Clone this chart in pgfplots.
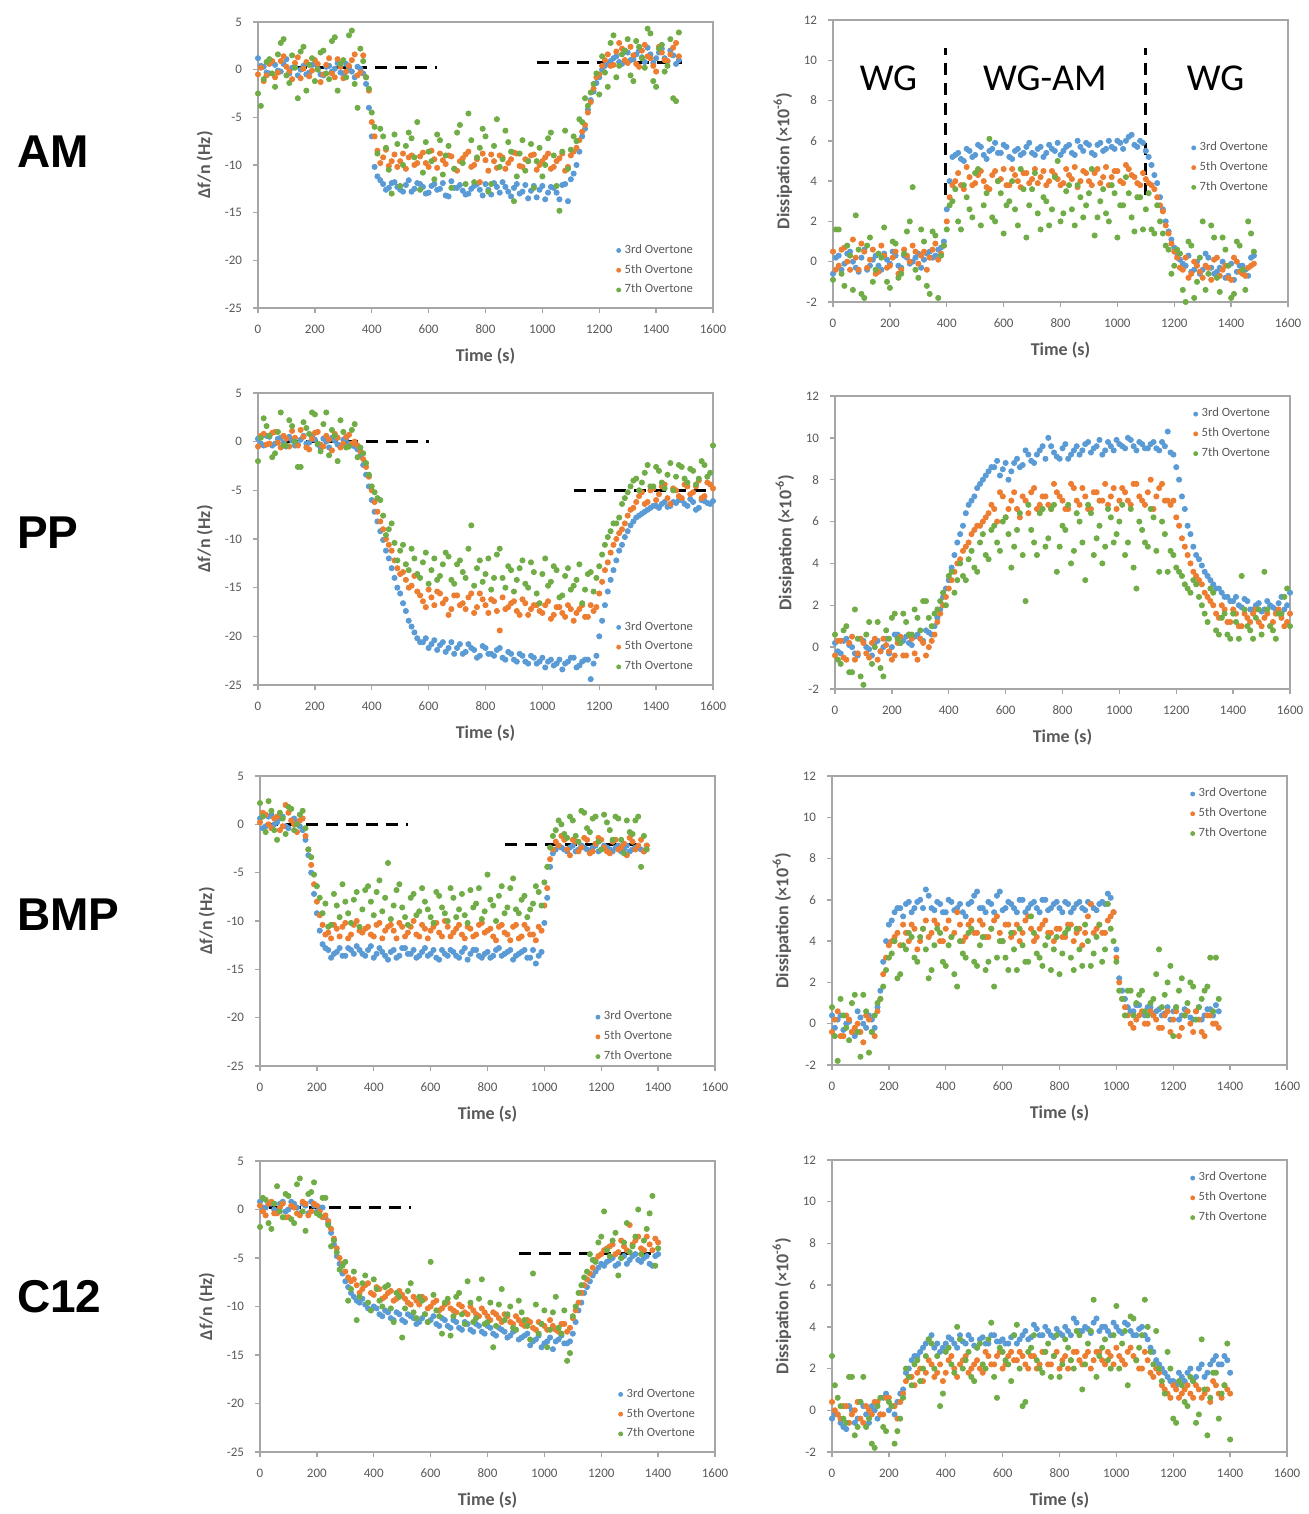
\documentclass[border=0pt]{standalone}
\usepackage{pgfplots}
\pgfplotsset{compat=1.18}
\usepackage{pgfplotstable}
\usepackage{fontspec}
\setmainfont{Carlito}
\newfontfamily\rowfont{Liberation Sans}

\definecolor{ov3}{HTML}{5B9BD5}
\definecolor{ov5}{HTML}{ED7D31}
\definecolor{ov7}{HTML}{70AD47}
\definecolor{tickgray}{HTML}{595959}
\definecolor{framegray}{HTML}{A6A6A6}

% columns: time, 3rd, 5th, 7th overtone
\pgfplotstableread{
t a b c
0 1.2 -0.5 -2.5
20 0.3 -1.2 -1.0
40 -0.4 0.6 1.1
60 0.5 -0.8 -1.8
80 -0.2 0.9 2.8
100 1.1 0.3 -0.6
120 0.2 -1.0 1.5
140 -0.6 1.3 -3.0
160 0.4 0.1 2.4
180 -0.3 -0.7 0.5
200 0.6 1.0 -1.2
220 -0.5 -1.3 1.8
240 0.3 0.5 -0.4
260 -0.2 -0.4 3.0
280 0.7 1.1 -2.2
300 -0.4 -0.9 1.0
320 0.2 0.4 3.6
340 -0.8 1.6 -1.5
360 0.1 -0.3 2.2
380 -1.5 -0.8 -0.8
400 -7.0 -5.5 -4.5
420 -11.2 -8.5 -8.8
440 -12.0 -9.2 -7.0
460 -12.4 -10.1 -10.5
480 -11.8 -8.9 -6.8
500 -12.6 -9.6 -12.2
520 -12.1 -10.4 -8.0
540 -12.8 -9.0 -7.2
560 -11.9 -9.8 -5.5
580 -12.3 -8.7 -10.8
600 -12.9 -10.2 -8.6
620 -12.0 -9.4 -11.5
640 -12.5 -8.8 -7.4
660 -13.2 -9.9 -9.0
680 -11.7 -9.1 -12.4
700 -12.4 -10.6 -6.6
720 -12.7 -9.3 -9.8
740 -13.0 -8.6 -4.6
760 -12.2 -10.0 -11.8
780 -12.6 -11.8 -8.2
800 -12.0 -9.5 -7.0
820 -13.1 -8.9 -12.0
840 -12.3 -10.3 -5.2
860 -11.8 -9.2 -9.4
880 -12.8 -9.8 -7.6
900 -12.4 -8.7 -13.8
920 -13.0 -10.1 -8.8
940 -12.1 -9.4 -10.6
960 -12.7 -9.0 -7.8
980 -13.4 -10.5 -9.6
1000 -12.2 -9.6 -11.2
1020 -12.9 -8.8 -7.2
1040 -12.4 -10.2 -9.0
1060 -13.6 -9.3 -14.8
1080 -12.0 -10.6 -6.4
1100 -11.5 -9.0 -8.4
1120 -10.0 -8.2 -7.5
1140 -7.0 -6.5 -5.5
1160 -4.2 -4.5 -3.8
1180 -2.3 -2.0 -1.5
1200 -0.8 -0.5 -2.6
1220 0.4 1.0 -0.3
1240 0.9 0.4 2.8
1260 1.4 1.9 -0.8
1280 0.6 2.2 1.6
1300 1.8 0.7 3.2
1320 1.1 1.5 -1.2
1340 2.0 0.3 2.4
1360 0.8 2.6 0.2
1380 1.6 1.2 3.8
1400 1.2 -0.2 -1.8
1420 2.2 1.8 2.6
1440 0.9 0.9 0.4
1460 1.5 2.3 -3.0
1480 1.0 1.4 3.9
10 0.4 0.2 -3.8
30 -0.3 -0.6 0.8
50 0.8 0.9 -0.4
70 -0.1 -0.3 1.6
90 0.6 1.4 3.2
110 -0.4 -0.2 -1.4
130 0.3 0.7 0.2
150 0.0 -0.9 1.9
170 -0.5 0.8 -2.2
190 0.5 -0.1 1.2
210 0.1 0.6 0.0
230 -0.6 -0.5 2.0
250 0.4 1.2 -1.0
270 0.1 -0.8 3.4
290 -0.3 0.3 0.6
310 0.6 -0.2 -0.8
330 -0.2 1.0 4.1
350 0.3 -0.6 -4.0
370 -0.4 1.5 0.9
390 -4.0 -2.2 -2.0
410 -10.2 -7.0 -6.0
430 -11.6 -9.8 -6.2
450 -12.6 -8.4 -8.2
470 -11.9 -9.6 -13.0
490 -12.3 -10.2 -7.8
510 -12.8 -8.8 -10.0
530 -11.6 -9.2 -6.6
550 -12.5 -10.0 -9.2
570 -12.0 -9.1 -12.6
590 -13.0 -9.8 -7.6
610 -12.2 -8.5 -9.6
630 -12.6 -10.3 -6.8
650 -11.9 -9.5 -11.0
670 -13.3 -9.0 -8.0
690 -12.4 -10.4 -10.4
710 -12.1 -9.6 -5.8
730 -13.1 -8.9 -12.0
750 -12.5 -10.2 -7.4
770 -12.0 -9.4 -9.2
790 -13.2 -8.8 -6.2
810 -12.6 -10.6 -12.8
830 -11.9 -9.6 -8.0
850 -12.9 -9.0 -10.2
870 -12.3 -10.4 -6.4
890 -13.3 -9.4 -8.6
910 -12.0 -8.8 -11.2
930 -12.8 -10.2 -7.4
950 -13.5 -9.6 -9.6
970 -12.2 -8.9 -12.4
990 -12.6 -10.0 -8.2
1010 -13.6 -9.2 -10.0
1030 -12.3 -10.4 -6.6
1050 -12.9 -9.6 -12.2
1070 -12.1 -8.8 -8.6
1090 -13.8 -10.2 -10.4
1110 -10.9 -8.6 -7.0
1130 -8.6 -7.4 -5.2
1150 -6.2 -5.8 -3.0
1170 -3.2 -3.4 -2.4
1190 -1.4 -0.8 -0.4
1210 0.0 0.4 1.4
1230 0.6 1.6 -1.8
1250 1.2 0.5 3.6
1270 0.8 2.8 0.4
1290 1.9 1.0 2.0
1310 1.0 2.4 -0.6
1330 1.6 0.6 3.0
1350 1.3 2.0 1.2
1370 2.3 1.4 4.3
1390 0.7 0.4 -1.2
1410 1.8 2.4 2.2
1430 1.2 1.0 -0.2
1450 2.0 1.6 3.2
1470 0.6 2.8 -3.3
}\amf

\pgfplotstableread{
t a b c
0 -0.6 0.5 -0.9
20 0.3 -0.2 1.6
40 -0.1 0.7 -1.2
60 0.5 -0.4 0.3
80 -0.3 0.2 2.3
100 0.2 0.9 -1.6
120 -0.4 -0.3 0.8
140 0.1 0.6 -1.0
160 -0.2 -0.5 0.4
180 0.4 0.3 1.7
200 -0.1 -0.2 -1.3
220 0.3 0.5 0.9
240 -0.3 -0.4 -0.6
260 0.2 0.3 1.5
280 0.0 0.8 3.7
300 0.4 -0.1 -0.8
320 0.1 0.5 1.0
340 0.5 0.2 -1.6
360 0.3 0.9 1.3
380 0.7 0.4 0.3
400 2.6 2.0 1.6
420 5.2 3.8 3.0
440 5.4 4.4 2.0
460 5.0 3.6 3.8
480 5.5 4.2 2.6
500 5.3 3.9 4.4
520 5.7 4.5 1.8
540 5.1 3.7 3.4
560 5.6 4.3 2.2
580 5.4 4.0 4.0
600 5.8 4.6 1.4
620 5.2 3.8 3.0
640 5.5 4.3 2.6
660 5.3 3.7 4.6
680 5.7 4.4 1.2
700 5.4 4.1 3.6
720 5.6 3.9 2.4
740 5.2 4.5 3.2
760 5.8 4.0 1.8
780 5.5 4.3 4.2
800 5.3 3.8 2.0
820 5.7 4.6 3.5
840 5.4 4.1 2.6
860 6.0 3.7 3.8
880 5.5 4.5 2.2
900 5.8 4.0 3.4
920 5.3 4.4 1.3
940 5.9 3.9 3.0
960 5.6 4.7 2.4
980 5.7 4.2 3.8
1000 6.0 4.5 1.2
1020 5.6 3.9 2.8
1040 6.2 4.6 3.4
1060 5.8 4.2 1.5
1080 6.0 3.8 3.2
1100 5.5 4.1 2.6
1120 4.8 3.8 1.6
1140 3.9 3.2 2.8
1160 2.6 2.5 1.4
1180 1.5 1.4 0.6
1200 0.7 0.5 -0.2
1220 0.1 -0.3 0.4
1240 -0.2 0.2 -2.0
1260 -0.5 -0.6 0.8
1280 0.0 -0.2 -1.0
1300 -0.4 -0.8 2.0
1320 0.2 -0.3 -0.6
1340 -0.6 0.1 1.2
1360 -0.3 -0.7 -1.5
1380 -0.8 -0.2 0.6
1400 -0.1 -0.9 -1.8
1420 -0.5 0.0 1.0
1440 -0.2 -0.6 -0.4
1460 -0.7 -0.3 2.0
1480 0.3 -0.1 0.5
10 0.2 -0.4 1.6
30 -0.4 0.6 -0.6
50 0.4 0.0 0.8
70 0.0 1.1 -1.4
90 -0.5 -0.4 0.6
110 0.6 0.5 -1.8
130 -0.2 0.1 1.2
150 0.3 -0.6 -0.4
170 -0.4 0.8 0.2
190 0.1 -0.3 -1.0
210 0.5 0.2 1.0
230 -0.2 -0.6 -0.8
250 0.3 0.6 0.4
270 -0.1 0.0 2.0
290 0.2 0.5 -0.4
310 -0.3 0.3 1.6
330 0.4 -0.4 -1.2
350 0.2 0.6 1.5
370 0.6 0.1 -1.8
390 1.0 0.8 0.8
410 4.0 3.2 2.8
430 5.3 4.0 3.6
450 5.1 3.8 1.6
470 5.6 4.7 3.2
490 5.2 3.8 2.2
510 5.8 4.3 4.6
530 5.3 4.0 2.8
550 5.5 3.6 6.1
570 5.9 4.5 2.0
590 5.4 4.1 3.4
610 5.7 3.8 2.8
630 5.1 4.6 4.0
650 5.6 4.0 1.8
670 5.4 4.4 3.6
690 5.9 3.9 2.8
710 5.3 4.6 4.4
730 5.7 4.2 1.6
750 5.4 3.8 3.0
770 5.6 4.5 2.6
790 5.9 4.1 5.0
810 5.5 3.9 2.4
830 5.8 4.3 3.8
850 5.3 4.7 1.8
870 5.7 4.0 3.2
890 5.9 4.4 2.8
910 5.4 3.8 4.6
930 5.8 4.6 2.2
950 5.5 4.2 3.6
970 6.0 3.8 2.0
990 5.6 4.5 3.4
1010 5.9 4.0 2.8
1030 6.0 4.8 4.2
1050 6.3 4.3 2.2
1070 5.7 3.9 3.2
1090 5.9 4.4 1.6
1110 5.2 3.9 3.4
1130 4.3 3.6 1.4
1150 3.2 2.8 2.0
1170 2.0 1.8 0.8
1190 1.1 0.9 -0.6
1210 0.4 0.2 0.6
1230 -0.1 -0.4 -1.4
1250 0.3 -0.8 1.0
1270 -0.4 0.0 -1.8
1290 -0.6 -0.5 0.2
1310 0.4 -0.2 -1.4
1330 -0.3 -0.9 1.8
1350 -0.5 0.2 -0.8
1370 0.0 -0.4 1.2
1390 -0.7 -0.8 -0.2
1410 -0.9 0.2 -1.6
1430 -0.2 -0.5 0.8
1450 -0.4 -0.7 -1.4
1470 0.2 -0.2 1.4
}\amd

\pgfplotstableread{
t a b c
0 0.3 -0.5 -2.0
20 -0.4 0.8 2.4
40 0.5 -0.2 0.6
60 -0.2 1.0 -1.2
80 0.4 -0.6 3.0
100 -0.5 0.3 -0.4
120 0.1 1.1 1.6
140 -0.3 -0.4 -2.6
160 0.6 0.5 2.0
180 -0.1 -0.8 0.8
200 0.2 0.9 2.8
220 -0.6 -0.3 -1.0
240 0.0 0.6 3.0
260 0.4 -0.9 1.2
280 -0.3 0.4 -2.0
300 0.2 -0.2 1.0
320 -0.2 0.7 -0.5
340 -0.5 0.0 1.8
360 -1.5 -1.0 -0.6
380 -3.4 -2.6 -2.2
400 -6.0 -5.0 -4.6
420 -8.2 -7.2 -5.8
440 -10.1 -9.0 -7.6
460 -12.0 -10.6 -9.0
480 -14.0 -12.2 -10.4
500 -15.6 -13.6 -11.2
520 -17.4 -14.2 -12.6
540 -19.0 -14.8 -11.0
560 -20.2 -15.4 -13.6
580 -20.6 -16.4 -12.4
600 -21.2 -15.2 -14.6
620 -20.4 -16.8 -12.0
640 -20.9 -15.6 -13.8
660 -21.6 -16.2 -11.4
680 -20.6 -17.2 -14.2
700 -21.2 -15.8 -12.6
720 -21.8 -16.6 -13.4
740 -20.8 -16.0 -11.0
760 -21.4 -17.6 -14.8
780 -22.0 -15.6 -12.2
800 -21.2 -16.8 -13.6
820 -21.8 -16.2 -15.2
840 -21.4 -17.4 -11.6
860 -22.2 -16.0 -14.0
880 -21.6 -17.0 -12.8
900 -22.4 -16.4 -15.4
920 -21.8 -17.8 -13.0
940 -22.6 -16.6 -14.6
960 -22.0 -17.2 -12.4
980 -22.8 -16.8 -15.6
1000 -22.2 -17.6 -13.6
1020 -22.6 -16.4 -14.8
1040 -23.0 -17.8 -12.8
1060 -22.4 -17.0 -16.0
1080 -22.8 -18.0 -13.8
1100 -22.2 -17.2 -15.2
1120 -23.2 -17.6 -14.2
1140 -22.6 -16.8 -16.6
1160 -22.4 -18.0 -13.6
1180 -22.8 -17.4 -15.4
1200 -20.0 -15.6 -12.8
1220 -16.8 -13.2 -10.6
1240 -14.2 -11.4 -9.2
1260 -12.2 -10.0 -8.4
1280 -10.6 -9.0 -6.4
1300 -9.2 -7.6 -5.2
1320 -8.2 -6.8 -4.0
1340 -7.6 -5.6 -5.0
1360 -7.2 -6.4 -3.2
1380 -6.8 -5.0 -4.6
1400 -6.6 -6.0 -2.6
1420 -6.4 -4.6 -4.2
1440 -6.7 -5.8 -3.4
1460 -6.2 -4.8 -5.0
1480 -6.0 -5.6 -2.4
1500 -6.4 -4.4 -3.8
1520 -5.9 -5.4 -2.8
1540 -7.0 -4.6 -4.4
1560 -6.0 -5.8 -2.0
1580 -6.3 -4.2 -3.6
1600 -6.1 -4.8 -0.4
10 -0.2 0.6 0.4
30 0.6 -0.3 1.6
50 -0.4 0.9 -1.6
70 0.3 -0.1 1.0
90 -0.1 0.6 -0.4
110 0.5 -0.5 2.2
130 -0.4 0.4 0.0
150 0.2 1.2 -2.6
170 -0.2 -0.6 1.4
190 0.5 0.3 3.0
210 -0.3 1.0 -0.2
230 0.3 -0.5 1.8
250 -0.6 0.2 -1.4
270 0.1 0.8 0.6
290 -0.4 -0.6 2.2
310 0.3 0.5 -0.6
330 -0.3 -0.2 1.2
350 -0.8 -0.4 -1.6
370 -2.4 -1.8 -1.2
390 -4.6 -3.6 -3.4
410 -7.2 -6.2 -5.2
430 -9.2 -8.2 -6.0
450 -11.2 -10.0 -9.6
470 -13.0 -11.2 -8.4
490 -15.0 -13.0 -12.2
510 -16.6 -13.4 -10.6
530 -18.4 -15.0 -13.2
550 -19.6 -13.8 -12.0
570 -20.6 -15.8 -14.0
590 -20.2 -17.0 -11.4
610 -20.8 -16.0 -13.2
630 -21.4 -15.4 -14.2
650 -20.6 -16.6 -12.6
670 -21.2 -17.8 -11.8
690 -21.8 -15.8 -14.6
710 -20.8 -16.8 -12.2
730 -21.6 -17.2 -14.0
750 -21.2 -15.6 -8.6
770 -22.2 -17.0 -13.0
790 -21.0 -16.2 -14.4
810 -21.8 -17.6 -12.0
830 -22.0 -16.4 -14.0
850 -21.2 -19.4 -11.0
870 -22.4 -17.2 -15.0
890 -21.8 -16.6 -13.2
910 -22.6 -17.4 -14.2
930 -22.0 -16.2 -12.2
950 -22.8 -17.8 -15.0
970 -22.2 -16.8 -13.4
990 -22.6 -17.4 -16.6
1010 -23.2 -16.8 -12.0
1030 -22.4 -18.2 -14.4
1050 -22.8 -17.0 -13.2
1070 -23.4 -17.6 -15.8
1090 -22.6 -16.8 -13.0
1110 -22.2 -18.4 -14.8
1130 -23.0 -17.2 -12.6
1150 -22.4 -18.0 -15.2
1170 -24.4 -16.8 -13.4
1190 -22.0 -17.0 -14.0
1210 -18.4 -14.4 -11.6
1230 -15.4 -12.4 -9.8
1250 -13.2 -10.6 -8.4
1270 -11.2 -9.4 -7.8
1290 -9.8 -8.4 -5.8
1310 -8.6 -7.0 -4.6
1330 -7.8 -6.2 -3.8
1350 -7.4 -5.2 -4.2
1370 -7.0 -6.2 -2.4
1390 -6.6 -4.8 -4.6
1410 -6.8 -5.4 -3.0
1430 -6.2 -4.4 -4.8
1450 -6.6 -6.4 -2.2
1470 -6.3 -5.0 -3.6
1490 -6.0 -5.8 -2.6
1510 -6.6 -4.6 -4.2
1530 -6.2 -5.2 -3.0
1550 -6.8 -4.0 -3.8
1570 -6.1 -5.6 -2.4
1590 -6.4 -4.4 -3.2
}\ppf

\pgfplotstableread{
t a b c
0 0.2 -0.4 0.6
20 -0.3 0.3 -0.8
40 0.4 -0.6 1.0
60 0.0 0.5 -1.2
80 -0.4 -0.3 0.4
100 0.3 0.2 -1.8
120 -0.1 -0.5 1.2
140 0.2 0.4 0.0
160 -0.2 -0.2 -1.0
180 0.4 0.1 0.8
200 0.0 -0.6 1.4
220 0.6 0.2 0.4
240 0.3 -0.4 1.6
260 0.2 0.6 0.6
280 0.5 -0.3 1.8
300 0.4 0.4 0.8
320 0.8 -0.4 2.2
340 0.6 0.3 1.0
360 1.4 1.2 1.8
380 2.4 2.0 2.6
400 3.2 2.8 3.4
420 4.4 3.6 2.6
440 5.4 4.2 4.0
460 6.4 4.8 3.2
480 7.0 5.4 4.6
500 7.6 5.8 3.6
520 8.0 6.0 5.4
540 8.4 6.4 4.2
560 8.6 6.6 5.8
580 8.2 7.4 4.6
600 8.8 6.2 6.2
620 8.4 7.0 3.8
640 9.0 6.6 5.6
660 8.7 7.2 4.4
680 9.2 6.4 6.8
700 8.8 7.6 5.0
720 9.4 6.8 6.4
740 9.0 7.2 4.8
760 9.6 6.6 6.6
780 9.1 7.4 3.6
800 9.5 7.0 5.8
820 9.0 6.6 6.8
840 9.4 7.6 4.6
860 9.2 6.8 6.0
880 9.7 7.2 3.2
900 9.3 6.6 6.4
920 9.6 7.4 5.2
940 9.2 7.0 4.0
960 9.8 6.8 6.6
980 9.4 7.6 5.0
1000 9.7 7.0 6.0
1020 9.5 7.4 4.4
1040 9.9 6.8 6.6
1060 9.4 7.8 2.8
1080 9.7 7.0 5.6
1100 9.5 7.4 4.8
1120 9.8 6.6 6.2
1140 9.4 7.6 3.6
1160 9.6 7.0 5.4
1180 9.3 6.8 4.6
1200 8.6 6.2 3.8
1220 7.2 5.2 3.4
1240 5.8 4.4 2.8
1260 4.8 3.6 3.2
1280 4.2 3.2 2.4
1300 3.6 2.6 1.6
1320 3.2 2.2 2.8
1340 2.8 1.6 0.8
1360 2.6 2.0 1.4
1380 2.4 1.2 0.6
1400 2.2 1.8 1.6
1420 2.0 1.0 0.4
1440 2.3 1.6 1.8
1460 1.8 1.2 0.8
1480 2.0 1.8 1.4
1500 1.7 1.0 0.6
1520 2.2 1.6 1.8
1540 1.9 1.2 0.8
1560 2.1 1.8 1.6
1580 1.8 1.0 2.4
1600 2.6 1.6 1.0
10 -0.2 0.3 -0.6
30 0.3 -0.5 0.8
50 0.1 0.2 -1.2
70 -0.3 -0.6 1.8
90 0.4 0.4 -1.4
110 0.0 -0.3 0.6
130 -0.4 0.2 -0.8
150 0.3 -0.6 1.2
170 0.0 0.4 -1.4
190 -0.3 -0.2 0.4
210 0.6 -0.4 1.6
230 0.2 0.5 0.2
250 0.5 -0.4 1.2
270 0.1 0.4 0.6
290 0.6 -0.6 1.4
310 0.3 0.2 2.2
330 0.7 0.0 1.4
350 1.0 0.6 1.6
370 1.8 1.6 2.2
390 2.8 2.4 2.0
410 3.8 3.2 3.6
430 5.0 4.0 3.2
450 5.8 4.6 3.4
470 6.8 5.0 4.2
490 7.2 5.6 3.8
510 7.8 5.8 5.0
530 8.2 6.2 4.4
550 8.6 6.8 5.6
570 8.9 6.0 5.0
590 8.5 7.2 6.0
610 8.0 6.6 5.4
630 8.8 7.4 4.8
650 8.6 6.2 6.4
670 9.4 7.0 2.2
690 8.9 7.4 5.6
710 9.2 6.6 4.4
730 9.6 7.2 6.6
750 10.0 6.8 5.2
770 9.3 7.8 6.8
790 9.0 7.2 4.8
810 9.7 6.6 5.6
830 9.2 7.8 4.0
850 9.6 7.0 6.4
870 9.4 7.6 5.0
890 9.8 6.6 6.8
910 9.5 7.4 4.4
930 9.9 7.0 5.8
950 9.4 7.8 4.8
970 9.6 7.2 6.2
990 9.9 6.6 5.4
1010 9.6 7.6 6.8
1030 10.0 7.0 5.0
1050 9.6 7.8 3.8
1070 9.8 7.2 6.0
1090 9.5 6.8 5.0
1110 9.7 8.0 6.6
1130 9.5 7.2 4.6
1150 9.8 7.8 6.0
1170 10.3 7.0 3.6
1190 9.2 7.0 4.4
1210 8.0 5.8 3.6
1230 6.6 4.8 3.0
1250 5.4 4.0 2.6
1270 4.4 3.4 3.0
1290 3.9 3.0 2.0
1310 3.4 2.4 1.2
1330 3.0 2.0 2.6
1350 2.8 1.4 0.6
1370 2.4 1.8 1.6
1390 2.2 1.2 0.4
1410 2.4 1.6 1.2
1430 1.9 1.0 3.4
1450 2.2 1.4 1.0
1470 1.8 1.6 0.4
1490 2.1 1.2 1.8
1510 1.8 1.4 3.6
1530 2.0 1.0 1.0
1550 1.8 1.6 0.4
1570 2.4 1.4 1.6
1590 2.0 1.2 2.8
}\ppd

\pgfplotstableread{
t a b c
0 0.6 0.2 2.2
20 -0.2 1.0 -0.8
40 1.0 -0.4 1.4
60 0.2 0.8 -1.6
80 0.8 -0.2 0.6
100 -0.4 1.2 1.8
120 0.6 0.0 -0.6
140 -0.2 0.4 1.0
160 -1.6 -1.2 -0.4
180 -5.0 -4.2 -3.4
200 -9.2 -8.0 -6.4
220 -12.4 -10.4 -9.2
240 -13.0 -11.2 -10.6
260 -13.4 -10.4 -7.2
280 -12.8 -11.6 -9.6
300 -13.6 -10.2 -8.0
320 -13.0 -11.4 -10.2
340 -12.6 -10.0 -7.0
360 -13.4 -11.2 -8.8
380 -13.0 -10.6 -6.4
400 -13.8 -11.6 -9.4
420 -12.8 -10.2 -5.8
440 -13.6 -11.0 -7.6
460 -13.2 -10.4 -9.8
480 -13.8 -11.8 -6.8
500 -12.8 -10.6 -8.6
520 -13.4 -11.2 -10.4
540 -13.0 -10.0 -7.2
560 -13.6 -11.6 -9.0
580 -12.8 -10.8 -8.0
600 -13.4 -11.0 -9.6
620 -13.8 -10.2 -7.0
640 -13.0 -11.6 -8.6
660 -13.6 -10.6 -10.0
680 -13.2 -11.2 -7.6
700 -13.8 -10.4 -8.8
720 -12.8 -11.8 -9.4
740 -13.4 -10.8 -6.8
760 -13.0 -11.4 -8.2
780 -13.8 -10.2 -9.8
800 -13.2 -11.0 -5.2
820 -13.6 -11.6 -8.4
840 -12.8 -10.6 -7.4
860 -13.4 -11.2 -9.2
880 -13.0 -12.0 -6.6
900 -13.6 -10.4 -8.8
920 -13.2 -11.6 -7.8
940 -13.8 -10.8 -9.6
960 -13.0 -11.4 -8.2
980 -13.6 -10.6 -7.0
1000 -10.2 -8.4 -6.0
1020 -4.4 -3.6 -2.4
1040 -2.6 -1.8 -0.6
1060 -2.4 -1.2 0.0
1080 -2.8 -2.6 -1.4
1100 -2.2 -1.6 0.4
1120 -2.6 -2.8 -1.8
1140 -2.4 -1.4 1.2
1160 -2.8 -3.0 -0.8
1180 -2.2 -2.0 0.8
1200 -2.6 -1.6 -2.6
1220 -2.4 -2.8 0.2
1240 -2.8 -1.8 -1.6
1260 -2.2 -2.6 0.6
1280 -2.6 -2.0 -3.0
1300 -2.8 -1.4 -0.8
1320 -2.4 -2.6 0.4
1340 -2.6 -1.6 -4.4
1360 -2.2 -2.2 -2.6
10 -0.4 1.2 0.8
30 0.8 0.0 2.4
50 0.0 0.6 -0.6
70 0.6 -0.6 1.2
90 -0.2 2.0 -1.0
110 0.4 0.4 1.6
130 0.2 -0.8 0.0
150 -0.6 0.6 1.4
170 -3.2 -2.6 -2.6
190 -7.2 -6.2 -5.2
210 -11.0 -9.4 -7.6
230 -12.8 -11.4 -8.2
250 -13.8 -11.8 -10.4
270 -13.2 -10.8 -8.4
290 -13.6 -10.6 -6.2
310 -12.8 -11.8 -9.2
330 -13.4 -10.4 -7.8
350 -13.0 -11.0 -10.6
370 -13.6 -10.8 -6.8
390 -12.6 -11.4 -8.0
410 -13.4 -10.4 -7.0
430 -13.2 -11.8 -9.0
450 -14.0 -10.6 -4.0
470 -13.0 -11.0 -8.4
490 -13.6 -10.2 -6.2
510 -12.8 -11.6 -9.6
530 -13.4 -10.6 -7.6
550 -13.8 -11.4 -9.4
570 -13.2 -10.4 -6.6
590 -13.6 -11.8 -8.8
610 -13.0 -10.6 -10.2
630 -14.0 -11.2 -7.4
650 -13.4 -10.0 -9.2
670 -13.0 -11.6 -6.6
690 -13.6 -10.8 -9.6
710 -13.2 -11.4 -7.2
730 -14.0 -10.6 -10.2
750 -13.0 -11.6 -8.6
770 -13.6 -10.4 -6.6
790 -13.4 -11.2 -9.0
810 -13.8 -10.8 -7.8
830 -13.0 -12.0 -10.0
850 -13.6 -10.4 -6.4
870 -13.2 -11.4 -8.6
890 -14.0 -10.6 -5.6
910 -13.4 -11.8 -9.2
930 -13.0 -10.4 -7.4
950 -13.8 -11.4 -8.8
970 -14.4 -12.0 -6.4
990 -13.2 -11.0 -8.4
1010 -7.6 -6.6 -4.4
1030 -3.0 -2.6 -1.2
1050 -2.2 -2.2 0.4
1070 -2.6 -1.6 -1.0
1090 -2.4 -3.2 0.8
1110 -2.8 -1.8 -1.2
1130 -2.2 -2.4 1.4
1150 -2.6 -1.6 -0.4
1170 -2.4 -2.8 0.6
1190 -2.8 -1.4 -1.8
1210 -2.2 -2.4 1.0
1230 -2.6 -3.0 -0.6
1250 -2.4 -1.6 0.8
1270 -2.8 -2.4 -1.6
1290 -2.2 -3.2 0.4
1310 -2.6 -1.8 -1.0
1330 -2.4 -2.2 0.8
1350 -2.8 -2.8 -1.2
}\bmpf

\pgfplotstableread{
t a b c
0 0.4 -0.4 0.8
20 0.2 0.6 -1.8
40 -0.3 -0.6 0.4
60 0.1 0.2 -0.8
80 -0.6 -0.2 1.4
100 0.3 -0.4 -1.6
120 -0.2 0.4 0.6
140 0.2 -0.4 -0.4
160 0.8 0.6 1.0
180 3.0 2.4 1.8
200 4.8 3.8 3.2
220 5.4 4.2 4.0
240 5.6 3.8 2.4
260 5.8 4.4 3.6
280 5.4 4.8 4.2
300 5.9 3.6 3.0
320 5.6 4.6 4.6
340 6.2 4.2 2.2
360 5.5 5.0 3.8
380 5.8 4.0 4.4
400 5.4 4.6 2.8
420 5.9 4.2 4.2
440 5.6 5.4 1.8
460 5.4 4.0 3.4
480 5.8 4.8 4.4
500 6.2 4.4 3.0
520 5.6 5.0 3.8
540 5.4 4.2 2.6
560 5.8 4.6 4.6
580 6.2 5.2 3.2
600 5.5 4.0 4.0
620 5.9 4.8 2.6
640 5.6 4.4 3.6
660 6.0 4.0 4.6
680 5.4 5.0 3.0
700 5.8 4.6 5.2
720 5.6 4.2 3.4
740 6.0 4.8 2.8
760 5.5 4.4 4.2
780 5.8 4.0 3.6
800 5.6 4.6 2.4
820 5.9 4.2 4.4
840 5.4 4.8 3.2
860 5.8 4.4 4.6
880 5.6 3.8 2.8
900 5.9 5.2 4.0
920 5.6 4.4 3.4
940 5.8 4.8 4.8
960 5.8 4.4 3.6
980 6.1 5.2 4.6
1000 3.6 3.2 3.0
1020 1.6 1.2 1.2
1040 0.8 0.4 1.6
1060 0.6 -0.2 0.4
1080 0.9 0.4 1.4
1100 0.4 0.0 0.6
1120 0.8 0.6 1.0
1140 0.6 0.2 2.4
1160 0.4 -0.2 0.8
1180 0.8 0.6 2.0
1200 0.6 0.2 -0.6
1220 0.2 -0.6 1.6
1240 0.7 0.4 0.4
1260 0.3 0.0 2.0
1280 0.6 0.6 0.2
1300 0.2 -0.4 1.2
1320 0.7 0.4 1.8
1340 0.4 0.0 0.6
1360 0.6 -0.2 1.2
10 -0.2 0.2 -0.6
30 0.4 -0.6 1.2
50 0.0 0.4 -0.2
70 -0.4 -0.4 1.0
90 0.6 0.0 -0.4
110 0.0 -0.9 1.4
130 0.4 0.2 -1.4
150 -0.2 -0.6 0.4
170 1.6 1.2 1.2
190 4.0 3.2 2.6
210 5.0 4.0 3.4
230 5.6 4.4 2.2
250 5.2 4.8 3.8
270 5.9 4.0 4.4
290 5.6 4.6 3.2
310 6.0 4.0 4.2
330 6.5 5.0 3.6
350 5.6 4.4 2.6
370 5.9 4.8 4.6
390 5.4 4.0 3.0
410 6.0 5.0 3.8
430 5.5 4.4 2.4
450 5.8 4.8 4.0
470 5.2 4.2 3.2
490 5.9 5.0 4.6
510 6.4 4.4 2.8
530 5.6 4.8 4.2
550 5.9 4.2 3.0
570 5.4 5.0 1.8
590 6.4 4.4 4.0
610 5.6 4.8 3.2
630 5.8 4.2 4.4
650 5.4 4.8 2.6
670 6.0 4.4 3.8
690 5.6 5.2 3.0
710 5.9 4.0 4.4
730 5.4 4.6 3.2
750 6.0 5.0 3.8
770 5.6 4.4 2.6
790 5.9 4.6 4.2
810 5.4 4.2 3.4
830 5.8 4.8 4.6
850 5.6 4.0 2.6
870 5.9 4.6 3.6
890 5.5 4.4 4.8
910 5.8 5.8 2.8
930 5.5 4.6 4.2
950 5.9 4.4 3.0
970 6.3 5.0 5.8
990 5.4 5.4 4.0
1010 2.2 2.0 1.6
1030 1.2 0.8 0.4
1050 0.6 0.0 1.6
1070 0.9 0.2 1.0
1090 0.5 0.6 1.6
1110 0.8 0.0 0.4
1130 0.4 0.4 1.2
1150 0.7 -0.2 3.6
1170 0.5 0.4 1.4
1190 0.2 -0.4 2.8
1210 0.8 0.6 0.8
1230 0.4 -0.2 2.2
1250 0.6 0.6 1.0
1270 0.2 -0.4 1.8
1290 0.8 0.2 0.8
1310 0.4 -0.6 1.6
1330 0.7 0.4 3.2
1350 0.9 0.0 3.2
}\bmpd

\pgfplotstableread{
t a b c
0 0.8 0.4 -1.8
20 0.2 -0.6 1.0
40 0.6 0.8 -2.0
60 -0.2 -0.4 2.4
80 0.8 0.6 -0.8
100 0.0 -0.8 1.4
120 0.6 0.2 -1.4
140 -0.4 -0.6 3.2
160 0.4 0.6 -2.2
180 0.8 -0.2 1.8
200 -0.2 0.4 -0.4
220 0.2 -0.8 1.2
240 -1.4 -1.2 -1.6
260 -3.6 -3.0 -3.2
280 -5.6 -5.0 -6.2
300 -7.4 -6.4 -5.4
320 -8.6 -7.4 -8.2
340 -9.4 -7.8 -11.4
360 -9.2 -8.2 -7.6
380 -10.2 -7.6 -9.6
400 -10.0 -8.8 -7.2
420 -10.8 -8.2 -9.4
440 -10.4 -9.0 -8.0
460 -11.2 -8.4 -10.2
480 -10.6 -9.2 -8.6
500 -11.4 -8.8 -13.2
520 -10.8 -9.6 -8.4
540 -11.2 -9.0 -10.6
560 -11.6 -9.8 -9.0
580 -10.8 -9.2 -10.8
600 -11.4 -10.0 -5.4
620 -11.8 -9.4 -10.4
640 -11.2 -10.2 -12.8
660 -12.0 -9.6 -9.2
680 -11.4 -10.4 -11.0
700 -12.2 -9.8 -8.6
720 -11.6 -10.6 -11.8
740 -12.4 -10.0 -9.6
760 -11.8 -10.8 -11.2
780 -12.6 -10.2 -7.2
800 -12.0 -11.0 -11.6
820 -12.8 -10.6 -14.2
840 -12.2 -11.2 -9.8
860 -12.6 -10.8 -11.4
880 -13.0 -11.6 -10.0
900 -12.4 -11.0 -12.4
920 -13.2 -11.8 -10.6
940 -12.8 -11.4 -12.0
960 -13.6 -12.2 -6.6
980 -13.0 -11.6 -12.8
1000 -13.8 -12.0 -10.4
1020 -13.2 -11.4 -12.4
1040 -13.6 -12.4 -9.0
1060 -13.0 -11.8 -12.8
1080 -13.8 -12.6 -15.6
1100 -12.8 -11.2 -11.0
1120 -10.4 -9.6 -8.6
1140 -8.6 -7.8 -7.0
1160 -7.4 -6.6 -4.6
1180 -6.4 -5.2 -5.4
1200 -5.6 -4.6 -2.8
1220 -5.4 -4.0 -4.2
1240 -5.0 -3.6 -3.2
1260 -5.6 -4.4 -6.8
1280 -4.8 -3.8 -3.4
1300 -5.2 -1.6 -4.4
1320 -4.6 -3.2 -2.8
1340 -5.4 -4.0 -4.6
1360 -4.8 -2.8 -2.0
1380 -5.8 -4.2 1.4
1400 -4.6 -3.4 -4.0
10 0.2 -0.2 1.2
30 0.6 0.6 -1.4
50 0.0 -0.4 0.6
70 0.6 0.2 -0.2
90 -0.2 -0.8 1.6
110 0.8 0.4 -1.0
130 0.2 -0.4 2.6
150 0.6 0.8 -0.2
170 -0.4 -0.6 1.6
190 0.4 0.6 2.8
210 0.2 -0.2 -0.6
230 -0.8 -0.6 1.2
250 -2.4 -2.0 -3.8
270 -4.8 -4.0 -4.4
290 -6.6 -5.6 -5.8
310 -8.0 -7.0 -9.4
330 -9.0 -7.2 -6.4
350 -9.6 -8.6 -9.0
370 -9.8 -7.8 -6.8
390 -10.4 -8.6 -10.4
410 -10.2 -8.0 -8.2
430 -11.0 -9.2 -10.0
450 -10.6 -8.6 -7.8
470 -11.4 -9.4 -11.6
490 -10.8 -8.4 -9.0
510 -11.6 -9.2 -10.2
530 -11.0 -9.8 -7.6
550 -11.8 -9.4 -11.2
570 -11.2 -9.0 -9.4
590 -11.6 -10.2 -11.6
610 -11.0 -9.6 -8.8
630 -12.0 -10.4 -11.0
650 -11.4 -9.8 -9.6
670 -12.2 -10.2 -13.0
690 -11.6 -10.6 -9.0
710 -12.4 -10.0 -10.8
730 -11.8 -10.8 -7.4
750 -12.6 -10.4 -11.6
770 -12.0 -11.0 -9.2
790 -12.8 -10.6 -11.8
810 -12.2 -11.4 -9.6
830 -13.0 -10.8 -12.0
850 -12.4 -11.6 -8.2
870 -13.2 -11.0 -10.8
890 -12.6 -11.8 -12.2
910 -13.4 -11.4 -9.4
930 -13.0 -12.0 -11.4
950 -14.0 -11.6 -13.4
970 -13.4 -12.4 -9.8
990 -14.2 -11.8 -11.8
1010 -13.6 -12.4 -14.2
1030 -14.4 -12.0 -10.6
1050 -13.4 -12.6 -12.2
1070 -13.8 -11.8 -10.4
1090 -13.6 -12.2 -14.8
1110 -11.6 -10.4 -10.0
1130 -9.6 -8.6 -7.8
1150 -8.0 -7.2 -6.4
1170 -6.8 -6.0 -5.2
1190 -6.0 -4.8 -3.4
1210 -5.8 -4.2 -0.2
1230 -5.2 -3.8 -4.8
1250 -5.8 -4.6 -2.4
1270 -5.0 -3.2 -5.0
1290 -5.6 -4.2 -1.4
1310 -4.8 -3.6 -3.8
1330 -5.2 -2.8 0.0
1350 -5.0 -4.2 -3.2
1370 -5.6 -3.6 -0.4
1390 -4.8 -3.0 -5.8
}\ctwf

\pgfplotstableread{
t a b c
0 -0.4 0.4 2.6
20 -0.2 -0.2 0.6
40 -0.8 0.2 -0.4
60 0.2 -0.6 1.6
80 -0.6 0.0 -1.2
100 0.4 -0.4 0.4
120 -0.2 0.2 -0.8
140 0.2 -0.2 -1.6
160 -0.4 0.4 0.2
180 0.6 -0.2 -0.8
200 0.0 0.6 0.4
220 -0.2 0.2 -1.6
240 0.8 0.4 -0.4
260 1.8 1.4 2.0
280 2.4 1.6 1.2
300 2.6 1.8 2.4
320 3.0 1.4 2.0
340 3.4 2.4 3.4
360 3.0 1.6 2.0
380 2.8 2.2 0.2
400 3.2 1.8 2.8
420 3.4 2.6 2.2
440 3.0 1.6 4.0
460 3.3 2.4 2.0
480 3.6 1.8 2.8
500 3.1 2.2 1.4
520 3.4 2.0 3.2
540 3.2 2.8 2.0
560 3.6 2.2 4.2
580 3.3 2.6 0.6
600 3.4 2.0 2.8
620 3.2 2.6 2.2
640 3.6 2.4 3.6
660 3.4 2.8 2.0
680 3.8 2.2 0.4
700 3.5 2.6 3.0
720 3.9 2.0 2.4
740 3.6 2.8 1.8
760 3.8 2.2 3.2
780 3.5 2.6 2.6
800 3.7 2.0 1.6
820 4.0 2.6 3.4
840 3.6 2.4 2.4
860 4.2 2.8 3.8
880 3.8 2.2 1.0
900 3.9 2.8 3.2
920 4.2 2.4 5.3
940 3.8 2.8 2.6
960 4.0 2.2 3.4
980 3.6 2.6 2.0
1000 4.0 3.0 5.0
1020 3.7 2.4 3.2
1040 4.1 2.8 1.2
1060 3.6 2.6 4.4
1080 3.9 2.0 3.0
1100 3.6 2.8 5.3
1120 3.0 1.8 2.8
1140 2.4 2.0 3.8
1160 2.0 1.2 1.4
1180 1.6 0.8 2.8
1200 1.4 1.2 -0.4
1220 1.8 0.6 1.4
1240 1.4 1.0 0.4
1260 2.0 0.8 1.6
1280 1.6 1.2 -0.6
1300 2.2 0.6 3.4
1320 1.8 1.0 -1.2
1340 2.4 1.4 1.8
1360 2.2 0.8 -0.4
1380 2.6 1.2 1.2
1400 1.8 0.8 -1.4
10 -0.2 0.0 1.2
30 -0.6 -0.4 0.2
50 -0.9 0.2 -0.6
70 0.0 -0.2 1.6
90 -0.4 0.4 -0.8
110 0.2 -0.6 1.6
130 -0.6 0.0 -0.4
150 0.0 0.4 -1.8
170 -0.2 -0.2 0.6
190 0.8 0.6 -1.0
210 0.2 0.2 0.2
230 0.4 -0.4 -1.0
250 1.0 0.8 0.6
270 2.0 1.6 1.6
290 2.6 1.2 2.2
310 2.8 2.0 1.4
330 3.2 1.8 2.6
350 3.6 2.2 3.2
370 3.2 1.8 2.6
390 3.0 1.4 0.8
410 3.5 2.4 3.0
430 3.2 2.0 1.8
450 3.6 2.2 3.4
470 3.2 2.6 2.4
490 3.4 2.0 1.6
510 3.0 2.4 3.0
530 3.5 1.8 2.2
550 3.2 2.6 3.4
570 3.6 2.2 1.6
590 3.3 2.8 3.0
610 3.2 2.2 2.4
630 3.5 2.8 1.4
650 3.2 2.4 4.1
670 3.6 2.6 0.2
690 3.4 2.0 2.8
710 4.1 2.6 3.6
730 3.6 2.2 2.0
750 4.0 2.8 2.8
770 3.6 2.2 1.6
790 3.9 2.8 3.6
810 3.6 2.4 2.2
830 3.8 2.0 3.0
850 4.4 2.8 2.0
870 3.8 2.4 3.6
890 4.0 2.6 2.2
910 3.7 2.0 3.8
930 4.4 2.8 1.6
950 4.0 2.4 3.0
970 3.8 2.8 2.4
990 4.2 2.2 3.6
1010 3.8 2.6 2.0
1030 4.2 2.2 3.8
1050 3.8 3.0 4.5
1070 3.6 2.4 2.4
1090 4.0 2.0 3.6
1110 3.4 2.4 4.0
1130 2.8 1.6 2.2
1150 2.2 1.8 2.0
1170 1.8 1.0 0.8
1190 1.4 0.6 2.0
1210 1.2 1.0 -0.6
1230 1.6 0.8 1.2
1250 1.8 1.2 0.2
1270 1.4 0.6 1.4
1290 2.0 1.0 -0.2
1310 1.6 0.8 1.0
1330 2.2 0.4 0.6
1350 2.6 1.2 1.8
1370 2.2 0.6 0.8
1390 2.4 1.0 3.2
}\ctwd

\pgfplotsset{
  panel/.style={
    scale only axis, width=227.5pt,
    xmin=0, xmax=1600, xtick={0,200,...,1600},
    axis line style={framegray, line width=0.7pt},
    tick style={framegray, line width=0.7pt},
    tick align=outside, major tick length=2.5pt,
    xtick pos=left, ytick pos=left,
    ticklabel style={font=\fontsize{6.5}{7}\selectfont, text=tickgray},
    xticklabel style={yshift=-2.5pt},
    yticklabel style={xshift=-2pt},
    /pgf/number format/assume math mode=true,
    /pgf/number format/1000 sep={},
    scaled ticks=false,
    xlabel={Time (s)},
    xlabel style={at={(axis description cs:0.5,0)}, yshift=-24pt, anchor=center,
      font=\bfseries\fontsize{9}{10}\selectfont, text=tickgray},
    ylabel style={anchor=center, font=\bfseries\fontsize{9}{10}\selectfont, text=tickgray},
    legend style={draw=none, fill=none, font=\fontsize{6.3}{7}\selectfont,
      text=tickgray, row sep=0pt, inner sep=1pt},
    legend cell align=left,
    legend image code/.code={\draw[##1, mark size=1pt] plot coordinates {(0.12cm,0cm)};},
  },
  fpanel/.style={panel, ymin=-25, ymax=5, ytick={-25,-20,...,5},
    ylabel={Δf/n (Hz)},
    ylabel style={at={(axis description cs:-0.117,0.5)}}},
  dpanel/.style={panel, ymin=-2, ymax=12, ytick={-2,0,...,12},
    ylabel={Dissipation (×10\textsuperscript{-6})},
    ylabel style={at={(axis description cs:-0.11,0.5)}}},
  dot/.style={only marks, mark=*, mark size=1.3pt},
  guide/.style={black, line width=1.5pt, dash pattern=on 6pt off 4pt, forget plot},
}

\newcommand{\overtones}[1]{%
  \addplot[dot, ov3] table[x=t, y=a] {#1}; \addlegendentry{3rd Overtone}
  \addplot[dot, ov5] table[x=t, y=b] {#1}; \addlegendentry{5th Overtone}
  \addplot[dot, ov7] table[x=t, y=c] {#1}; \addlegendentry{7th Overtone}
}

\begin{document}
\begin{tikzpicture}

% row names
\node[anchor=west, font=\rowfont\bfseries\fontsize{23}{26}\selectfont] at (5pt,681pt) {AM};
\node[anchor=west, font=\rowfont\bfseries\fontsize{23}{26}\selectfont] at (5pt,490.5pt) {PP};
\node[anchor=west, font=\rowfont\bfseries\fontsize{23}{26}\selectfont] at (5pt,299.5pt) {BMP};
\node[anchor=west, font=\rowfont\bfseries\fontsize{23}{26}\selectfont] at (5pt,108.5pt) {C12};

% AM
\begin{axis}[fpanel, at={(129pt,603pt)}, anchor=south west, height=143pt,
  legend style={at={(0.97,0.02)}, anchor=south east}]
\overtones{\amf}
\addplot[guide] coordinates {(130,0.2) (630,0.2)};
\addplot[guide] coordinates {(980,0.8) (1490,0.8)};
\end{axis}

\begin{axis}[dpanel, at={(416.5pt,606pt)}, anchor=south west, height=141pt,
  legend style={at={(0.97,0.59)}, anchor=north east}]
\overtones{\amd}
\addplot[guide] coordinates {(395,3.3) (395,10.6)};
\addplot[guide] coordinates {(1100,3.3) (1100,10.6)};
\node[font=\fontsize{19}{22}\selectfont] at (axis cs:195,9.1) {WG};
\node[font=\fontsize{19}{22}\selectfont] at (axis cs:745,9.1) {WG-AM};
\node[font=\fontsize{19}{22}\selectfont] at (axis cs:1345,9.1) {WG};
\end{axis}

% PP
\begin{axis}[fpanel, at={(129pt,414.5pt)}, anchor=south west, height=146pt,
  legend style={at={(0.97,0.02)}, anchor=south east}]
\overtones{\ppf}
\addplot[guide] coordinates {(100,0) (600,0)};
\addplot[guide] coordinates {(1110,-5) (1600,-5)};
\end{axis}

\begin{axis}[dpanel, at={(417.5pt,412.5pt)}, anchor=south west, height=146.5pt,
  legend style={at={(0.97,0.98)}, anchor=north east}]
\overtones{\ppd}
\end{axis}

% BMP
\begin{axis}[fpanel, at={(130pt,224pt)}, anchor=south west, height=145pt,
  legend style={at={(0.92,-0.01)}, anchor=south east}]
\overtones{\bmpf}
\addplot[guide] coordinates {(20,0) (520,0)};
\addplot[guide] coordinates {(860,-2.1) (1360,-2.1)};
\end{axis}

\begin{axis}[dpanel, at={(416pt,224.5pt)}, anchor=south west, height=144.5pt,
  legend style={at={(0.97,0.98)}, anchor=north east}]
\overtones{\bmpd}
\end{axis}

% C12
\begin{axis}[fpanel, at={(130pt,31pt)}, anchor=south west, height=145.5pt,
  legend style={at={(0.97,0.02)}, anchor=south east}]
\overtones{\ctwf}
\addplot[guide] coordinates {(30,0.2) (530,0.2)};
\addplot[guide] coordinates {(910,-4.5) (1400,-4.5)};
\end{axis}

\begin{axis}[dpanel, at={(416pt,31pt)}, anchor=south west, height=146pt,
  legend style={at={(0.97,0.98)}, anchor=north east}]
\overtones{\ctwd}
\end{axis}

\pgfresetboundingbox
\path[use as bounding box] (0,0) rectangle (654.5pt,757pt);
\end{tikzpicture}
\end{document}
